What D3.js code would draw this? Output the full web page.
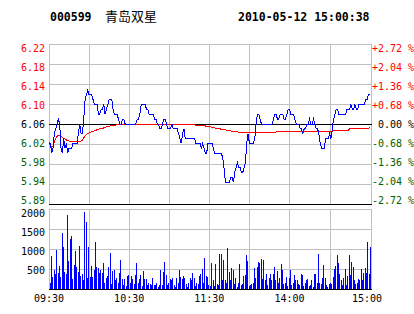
<!DOCTYPE html>
<html>
<head>
<meta charset="utf-8">
<script src="https://cdn.jsdelivr.net/npm/d3@7"></script>
<style>
body { margin: 0; background: #fff; }
text { font-family: "DejaVu Sans Mono", monospace; font-size: 10px; white-space: pre; }
</style>
</head>
<body>
<div id="chart"></div>
<script>
var stockCode = "000599", stockName = "青岛双星", stamp = "2010-05-12 15:00:38";
var prevClose = 6.06;

var timeLabels = ["09:30", "10:30", "11:30", "14:00", "15:00"];
var timeIdx = [0, 60, 120, 180, 240];
var pctTicks = [2.72, 2.04, 1.36, 0.68, 0, -0.68, -1.36, -2.04, -2.72];
var priceLabels = ["6.22", "6.18", "6.14", "6.10", "6.06", "6.02", "5.98", "5.94", "5.89"];
var pctLabels = ["+2.72 %", "+2.04 %", "+1.36 %", "+0.68 %", " 0.00 %", "-0.68 %", "-1.36 %", "-2.04 %", "-2.72 %"];
var volTicks = [2000, 1500, 1000, 500];
var volLabels = ["2000", "1500", "1000", "500"];

// one value per minute, 09:30-11:30 + 13:00-15:00
var prices = [
  6.02, 6.02, 6.00, 6.01, 6.04, 6.05, 6.06, 6.07, 6.06, 6.01,
  6.00, 6.03, 6.01, 6.02, 6.00, 6.01, 6.01, 6.01, 6.02, 6.02,
  6.02, 6.02, 6.04, 6.06, 6.04, 6.04, 6.07, 6.11, 6.12, 6.13,
  6.12, 6.12, 6.12, 6.11, 6.10, 6.10, 6.10, 6.08, 6.08, 6.09,
  6.09, 6.10, 6.08, 6.09, 6.10, 6.11, 6.11, 6.11, 6.09, 6.08,
  6.08, 6.08, 6.07, 6.06, 6.06, 6.07, 6.07, 6.06, 6.06, 6.06,
  6.06, 6.06, 6.06, 6.06, 6.06, 6.06, 6.07, 6.07, 6.08, 6.10,
  6.10, 6.10, 6.10, 6.09, 6.09, 6.08, 6.08, 6.08, 6.08, 6.07,
  6.07, 6.06, 6.06, 6.05, 6.05, 6.06, 6.07, 6.07, 6.06, 6.05,
  6.05, 6.05, 6.06, 6.05, 6.05, 6.05, 6.05, 6.04, 6.03, 6.02,
  6.04, 6.05, 6.03, 6.03, 6.03, 6.03, 6.03, 6.03, 6.03, 6.03,
  6.02, 6.02, 6.02, 6.02, 6.01, 6.02, 6.01, 6.00, 6.00, 6.02,
  6.02, 6.02, 6.02, 6.01, 6.00, 6.00, 6.00, 6.00, 6.00, 6.00,
  5.99, 5.97, 5.94, 5.94, 5.94, 5.94, 5.95, 5.95, 5.94, 5.96,
  5.97, 5.98, 5.97, 5.97, 5.96, 5.96, 5.97, 5.98, 6.02, 6.04,
  6.02, 6.02, 6.02, 6.02, 6.03, 6.06, 6.08, 6.08, 6.07, 6.06,
  6.06, 6.06, 6.06, 6.06, 6.06, 6.06, 6.06, 6.06, 6.07, 6.08,
  6.08, 6.07, 6.07, 6.08, 6.08, 6.08, 6.07, 6.07, 6.08, 6.09,
  6.09, 6.08, 6.08, 6.08, 6.07, 6.06, 6.06, 6.06, 6.05, 6.05,
  6.04, 6.05, 6.05, 6.06, 6.06, 6.07, 6.06, 6.06, 6.07, 6.06,
  6.05, 6.05, 6.04, 6.02, 6.01, 6.01, 6.01, 6.03, 6.03, 6.03,
  6.04, 6.03, 6.05, 6.07, 6.08, 6.09, 6.09, 6.08, 6.08, 6.08,
  6.08, 6.08, 6.08, 6.09, 6.09, 6.09, 6.10, 6.09, 6.09, 6.10,
  6.09, 6.09, 6.10, 6.10, 6.10, 6.10, 6.10, 6.11, 6.11, 6.12,
  6.12
];

var avgPrices = [
  6.022, 6.016, 6.012, 6.015, 6.023, 6.030, 6.034, 6.037, 6.037, 6.035,
  6.032, 6.030, 6.029, 6.027, 6.026, 6.025, 6.024, 6.024, 6.023, 6.023,
  6.023, 6.023, 6.023, 6.024, 6.025, 6.027, 6.031, 6.035, 6.038, 6.040,
  6.042, 6.043, 6.044, 6.045, 6.046, 6.047, 6.048, 6.049, 6.050, 6.051,
  6.051, 6.052, 6.053, 6.054, 6.054, 6.055, 6.056, 6.056, 6.057, 6.057,
  6.058, 6.058, 6.059, 6.059, 6.059, 6.060, 6.060, 6.060, 6.060, 6.060,
  6.060, 6.060, 6.060, 6.060, 6.060, 6.060, 6.060, 6.060, 6.060, 6.060,
  6.060, 6.060, 6.060, 6.060, 6.060, 6.060, 6.060, 6.060, 6.060, 6.060,
  6.060, 6.060, 6.060, 6.060, 6.060, 6.060, 6.060, 6.060, 6.060, 6.060,
  6.060, 6.060, 6.060, 6.060, 6.060, 6.059, 6.059, 6.059, 6.059, 6.059,
  6.059, 6.059, 6.059, 6.059, 6.059, 6.059, 6.058, 6.058, 6.058, 6.058,
  6.057, 6.057, 6.057, 6.057, 6.056, 6.056, 6.056, 6.056, 6.055, 6.055,
  6.054, 6.054, 6.053, 6.053, 6.052, 6.051, 6.051, 6.050, 6.050, 6.049,
  6.049, 6.048, 6.048, 6.047, 6.047, 6.046, 6.046, 6.045, 6.045, 6.044,
  6.044, 6.044, 6.043, 6.043, 6.043, 6.042, 6.042, 6.042, 6.042, 6.042,
  6.042, 6.042, 6.042, 6.042, 6.042, 6.042, 6.042, 6.042, 6.042, 6.042,
  6.042, 6.042, 6.042, 6.042, 6.042, 6.042, 6.042, 6.042, 6.042, 6.042,
  6.044, 6.044, 6.044, 6.044, 6.044, 6.044, 6.044, 6.044, 6.044, 6.044,
  6.044, 6.044, 6.044, 6.044, 6.044, 6.044, 6.044, 6.044, 6.044, 6.044,
  6.044, 6.044, 6.044, 6.044, 6.044, 6.044, 6.044, 6.044, 6.044, 6.044,
  6.044, 6.044, 6.044, 6.044, 6.044, 6.044, 6.044, 6.044, 6.044, 6.044,
  6.044, 6.044, 6.044, 6.047, 6.047, 6.047, 6.047, 6.047, 6.047, 6.047,
  6.047, 6.047, 6.047, 6.047, 6.047, 6.050, 6.050, 6.050, 6.050, 6.050,
  6.050, 6.050, 6.050, 6.050, 6.050, 6.051, 6.051, 6.051, 6.051, 6.051,
  6.052
];

var volumes = [
  140, 825, 290, 475, 380, 975, 390, 580, 290, 1400,
  1050, 420, 380, 1850, 700, 1250, 1325, 240, 600, 950,
  560, 420, 1070, 330, 380, 230, 1930, 1680, 280, 1050,
  300, 580, 300, 470, 1175, 560, 530, 400, 470, 400,
  650, 160, 280, 330, 560, 900, 130, 440, 470, 230,
  280, 160, 400, 720, 240, 100, 240, 80, 330, 350,
  160, 330, 240, 130, 350, 650, 160, 240, 350, 80,
  440, 240, 240, 100, 160, 130, 100, 280, 100, 100,
  160, 50, 100, 470, 100, 420, 680, 350, 100, 160,
  240, 230, 280, 100, 50, 280, 160, 470, 300, 240,
  330, 280, 130, 50, 160, 280, 230, 400, 280, 80,
  160, 130, 330, 380, 490, 160, 780, 330, 300, 100,
  80, 650, 230, 80, 620, 130, 100, 870, 870, 230,
  720, 230, 160, 1020, 420, 230, 530, 470, 130, 280,
  50, 160, 620, 100, 130, 330, 350, 850, 700, 80,
  100, 130, 160, 530, 280, 560, 680, 650, 750, 240,
  720, 230, 380, 100, 280, 380, 230, 380, 560, 230,
  440, 160, 280, 620, 470, 130, 160, 300, 80, 280,
  470, 100, 160, 350, 230, 230, 130, 100, 380, 350,
  80, 160, 230, 240, 80, 100, 230, 50, 380, 380,
  160, 870, 160, 130, 280, 600, 280, 100, 50, 130,
  160, 130, 300, 490, 580, 850, 650, 380, 230, 100,
  280, 490, 100, 330, 850, 350, 680, 560, 230, 130,
  160, 240, 230, 490, 230, 400, 530, 400, 1175, 380,
  1050
];

var upColor = "#ff0000", downColor = "#006000", gridColor = "#c0c0c0";

var svg = d3.select("#chart").append("svg")
    .attr("width", 414)
    .attr("height", 314);

var x = d3.scaleLinear().domain([0, 241]).range([49, 371]);
var yP = d3.scaleLinear().domain([prevClose * (1 - 0.0272), prevClose * (1 + 0.0272)]).range([204, 44]);
var yV = d3.scaleLinear().domain([0, 2000]).range([289, 209]);

function px(v) { return Math.round(v) + 0.5; }

// header
svg.append("text").attr("x", 50).attr("y", 21)
    .style("font-size", "11.5px").style("font-weight", "bold").text(stockCode);
svg.append("text").attr("x", 105).attr("y", 21)
    .style("font-family", "'Noto Sans CJK SC', sans-serif").style("font-size", "13px").text(stockName);
svg.append("text").attr("x", 238).attr("y", 21)
    .style("font-size", "11.5px").style("font-weight", "bold").text(stamp);

var vGrid = d3.range(0, 240, 30);

// price panel grid
var gP = svg.append("g").attr("shape-rendering", "crispEdges");
gP.selectAll(".hgrid").data(pctTicks).enter().append("line")
    .attr("x1", 49).attr("x2", 371)
    .attr("y1", function(d) { return px(yP(prevClose * (1 + d / 100))); })
    .attr("y2", function(d) { return px(yP(prevClose * (1 + d / 100))); })
    .attr("stroke", function(d, i) { return (d === 0 || i === pctTicks.length - 1) ? "#000" : gridColor; });
gP.selectAll(".vgrid").data(vGrid.concat([241])).enter().append("line")
    .attr("x1", function(d) { return px(x(d)); }).attr("x2", function(d) { return px(x(d)); })
    .attr("y1", 44).attr("y2", 204)
    .attr("stroke", gridColor);
// keep the black lines on top of the vertical grid
gP.selectAll(".blk").data([0, -2.72]).enter().append("line")
    .attr("x1", 49).attr("x2", 372)
    .attr("y1", function(d) { return px(yP(prevClose * (1 + d / 100))); })
    .attr("y2", function(d) { return px(yP(prevClose * (1 + d / 100))); })
    .attr("stroke", "#000");

// labels left / right
svg.selectAll(".plab").data(priceLabels).enter().append("text")
    .attr("x", 45).attr("y", function(d, i) { return 51.5 + i * 19; })
    .attr("text-anchor", "end")
    .attr("fill", function(d, i) { return pctTicks[i] > 0 ? upColor : pctTicks[i] < 0 ? downColor : "#000"; })
    .text(function(d) { return d; });
svg.selectAll(".rlab").data(pctLabels).enter().append("text")
    .attr("x", 372).attr("y", function(d, i) { return 51.5 + i * 19; })
    .attr("fill", function(d, i) { return pctTicks[i] > 0 ? upColor : pctTicks[i] < 0 ? downColor : "#000"; })
    .text(function(d) { return d; });

// average and price lines
var avgLine = d3.line().x(function(d, i) { return x(i); }).y(function(d) { return yP(d); });
svg.append("path").datum(avgPrices)
    .attr("d", avgLine).attr("fill", "none").attr("stroke", "#ff0000")
    .attr("shape-rendering", "crispEdges");
svg.append("path").datum(prices)
    .attr("d", avgLine).attr("fill", "none").attr("stroke", "#0000ff")
    .attr("shape-rendering", "crispEdges");

// volume panel
var gV = svg.append("g").attr("shape-rendering", "crispEdges");
gV.selectAll(".hgrid").data([2000, 1500, 1000, 500]).enter().append("line")
    .attr("x1", 49).attr("x2", 371)
    .attr("y1", function(d) { return px(yV(d)); }).attr("y2", function(d) { return px(yV(d)); })
    .attr("stroke", gridColor);
gV.selectAll(".vgrid").data(vGrid.concat([241])).enter().append("line")
    .attr("x1", function(d) { return px(x(d)); }).attr("x2", function(d) { return px(x(d)); })
    .attr("y1", 209).attr("y2", 289)
    .attr("stroke", gridColor);
gV.selectAll(".bar").data(volumes).enter().append("rect")
    .attr("x", function(d, i) { return Math.floor(x(i)) + 1; })
    .attr("width", 1)
    .attr("y", function(d) { return Math.round(yV(d)); })
    .attr("height", function(d) { return 289 - Math.round(yV(d)); })
    .attr("fill", "#0000ff");
gV.append("line").attr("x1", 49).attr("x2", 372)
    .attr("y1", 289.5).attr("y2", 289.5).attr("stroke", "#000");

svg.selectAll(".vlab").data(volLabels).enter().append("text")
    .attr("x", 45).attr("y", function(d, i) { return 217 + i * 19; })
    .attr("text-anchor", "end").attr("fill", "#000")
    .text(function(d) { return d; });

svg.selectAll(".tlab").data(timeLabels).enter().append("text")
    .attr("x", function(d, i) { return i === timeLabels.length - 1 ? 367 : x(timeIdx[i]); })
    .attr("y", 302)
    .attr("text-anchor", "middle").attr("fill", "#000")
    .text(function(d) { return d; });

console.log(prices.length, avgPrices.length, volumes.length);
</script>
</body>
</html>
